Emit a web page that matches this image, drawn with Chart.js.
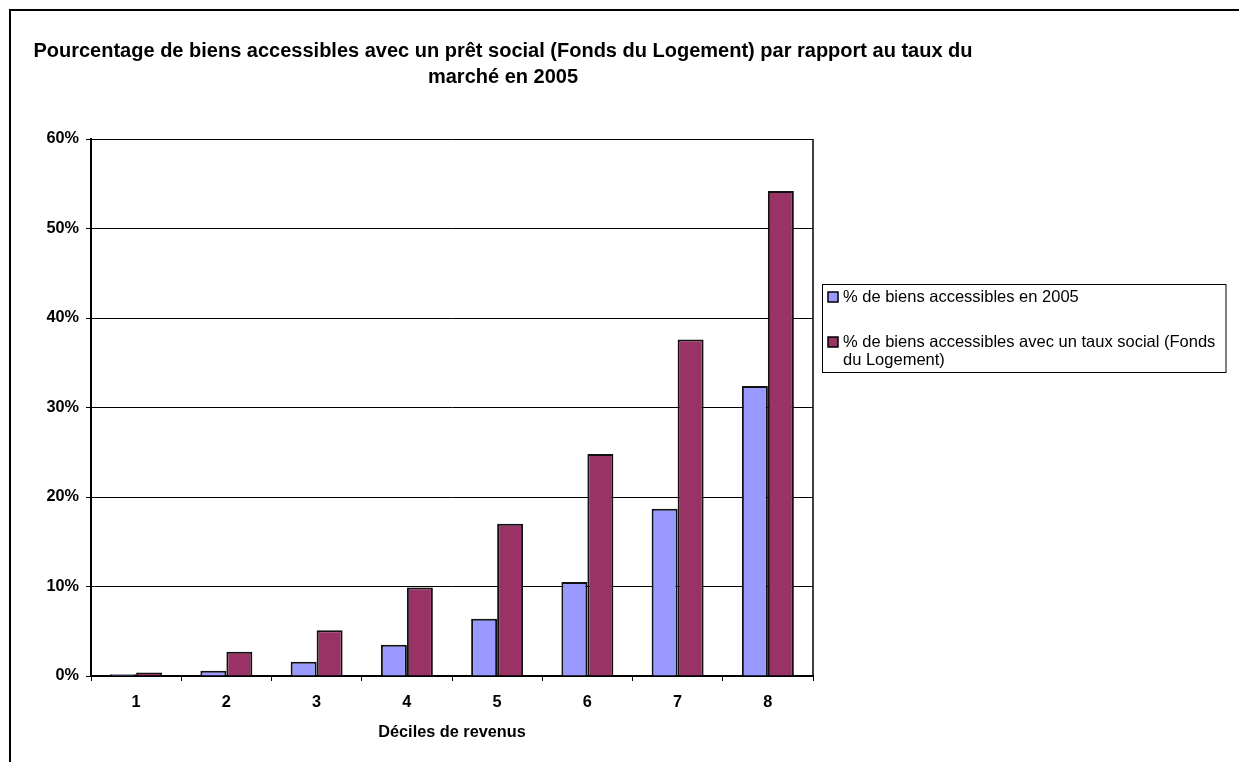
<!DOCTYPE html>
<html>
<head>
<meta charset="utf-8">
<title>Déciles de revenus</title>
<script src="https://cdn.jsdelivr.net/npm/chart.js@4/dist/chart.umd.min.js"></script>
<style>
  html, body { margin: 0; padding: 0; background: #fff; }
  canvas { display: block; }
</style>
</head>
<body>
<canvas id="deciles-chart" width="1239" height="762"></canvas>
<script>
const deciles = ['1', '2', '3', '4', '5', '6', '7', '8'];
const share2005 = [0.2, 0.6, 1.6, 3.5, 6.4, 10.5, 18.7, 32.4];
const shareSocial = [0.4, 2.7, 5.1, 9.9, 17.0, 24.8, 37.6, 54.2];
const yTicks = [0, 10, 20, 30, 40, 50, 60];
const seriesLabels = [
  '% de biens accessibles en 2005',
  '% de biens accessibles avec un taux social (Fonds du Logement)'
];
const titleLines = [
  'Pourcentage de biens accessibles avec un prêt social (Fonds du Logement) par rapport au taux du',
  'marché en 2005'
];
const xTitle = 'Déciles de revenus';

const FONT = '"Liberation Sans", Arial, sans-serif';
const axisFont = {family: FONT, size: 16.3, weight: 'bold'};

// wraps a legend label to the given width
const wrapText = (ctx, text, maxWidth) => {
  const words = text.split(' ');
  const lines = [];
  let line = '';
  words.forEach((w) => {
    const test = line ? line + ' ' + w : w;
    if (ctx.measureText(test).width > maxWidth && line) {
      lines.push(line);
      line = w;
    } else {
      line = test;
    }
  });
  if (line) lines.push(line);
  return lines;
};

// outer frame, centred title, plot border and the boxed legend
const decorPlugin = {
  id: 'decor',
  beforeDraw(chart) {
    const {ctx} = chart;
    ctx.save();
    ctx.fillStyle = '#fff';
    ctx.fillRect(0, 0, chart.width, chart.height);
    ctx.restore();
  },
  afterDraw(chart) {
    const {ctx, chartArea} = chart;
    ctx.save();

    // frame
    ctx.strokeStyle = '#000';
    ctx.lineWidth = 2;
    ctx.strokeRect(10, 10, chart.width + 20, chart.height + 20);

    // title
    ctx.fillStyle = '#000';
    ctx.font = 'bold 20px ' + FONT;
    ctx.textAlign = 'center';
    ctx.textBaseline = 'middle';
    titleLines.forEach((t, i) => ctx.fillText(t, 503, 51 + i * 26));

    // right edge of the plot
    ctx.lineWidth = 1.5;
    ctx.beginPath();
    ctx.moveTo(chartArea.right, chartArea.top);
    ctx.lineTo(chartArea.right, chartArea.bottom);
    ctx.stroke();

    // legend
    const lx = 822.5, ly = 284.5, lw = 403.5, lh = 88;
    ctx.lineWidth = 1;
    ctx.strokeStyle = '#000';
    ctx.strokeRect(lx, ly, lw, lh);
    ctx.font = '16.5px ' + FONT;
    ctx.textAlign = 'left';
    ctx.textBaseline = 'middle';
    const rowY = [297, 342];
    chart.data.datasets.forEach((ds, i) => {
      const y = rowY[i];
      ctx.fillStyle = ds.backgroundColor;
      ctx.fillRect(828, y - 5, 10, 10);
      ctx.lineWidth = 1.5;
      ctx.strokeStyle = '#000';
      ctx.strokeRect(828, y - 5, 10, 10);
      ctx.fillStyle = '#000';
      wrapText(ctx, ds.label, 380).forEach((line, j) => {
        ctx.fillText(line, 843, y + j * 18.7);
      });
    });

    ctx.restore();
  }
};

const chart = new Chart(document.getElementById('deciles-chart'), {
  type: 'bar',
  data: {
    labels: deciles,
    datasets: [
      {
        label: seriesLabels[0],
        data: share2005,
        backgroundColor: '#9999FF',
        borderColor: '#111',
        borderWidth: 2,
      },
      {
        label: seriesLabels[1],
        data: shareSocial,
        backgroundColor: '#993366',
        borderColor: '#111',
        borderWidth: 2,
      }
    ],
  },
  options: {
    responsive: false,
    devicePixelRatio: 1,
    animation: false,
    datasets: {
      bar: {
        categoryPercentage: 0.576,
        barPercentage: 1,
      },
    },
    layout: {
      padding: {left: 0, top: 139, right: 426, bottom: 0},
    },
    scales: {
      x: {
        afterFit: (scale) => { scale.height = 86; },
        grid: {
          offset: true,
          drawOnChartArea: false,
          tickLength: 5,
          color: '#000',
          tickColor: '#000',
        },
        border: {color: '#000', width: 2},
        ticks: {
          font: axisFont,
          color: '#000',
          padding: 12,
          maxRotation: 0,
        },
        title: {
          display: true,
          text: xTitle,
          font: axisFont,
          color: '#000',
          padding: {top: 0, bottom: 20},
        },
      },
      y: {
        min: 0,
        max: 60,
        afterFit: (scale) => { scale.width = 91; },
        afterBuildTicks: (scale) => {
          scale.ticks = yTicks.map((v) => ({value: v}));
        },
        grid: {
          color: '#000',
          lineWidth: 1,
          tickLength: 5,
          tickColor: '#000',
        },
        border: {color: '#000', width: 2},
        ticks: {
          font: axisFont,
          color: '#000',
          padding: 7,
          callback: (v) => v + '%',
        },
      },
    },
    plugins: {
      legend: {display: false},
      title: {display: false},
      tooltip: {enabled: false},
    },
  },
  plugins: [decorPlugin],
});
</script>
</body>
</html>
